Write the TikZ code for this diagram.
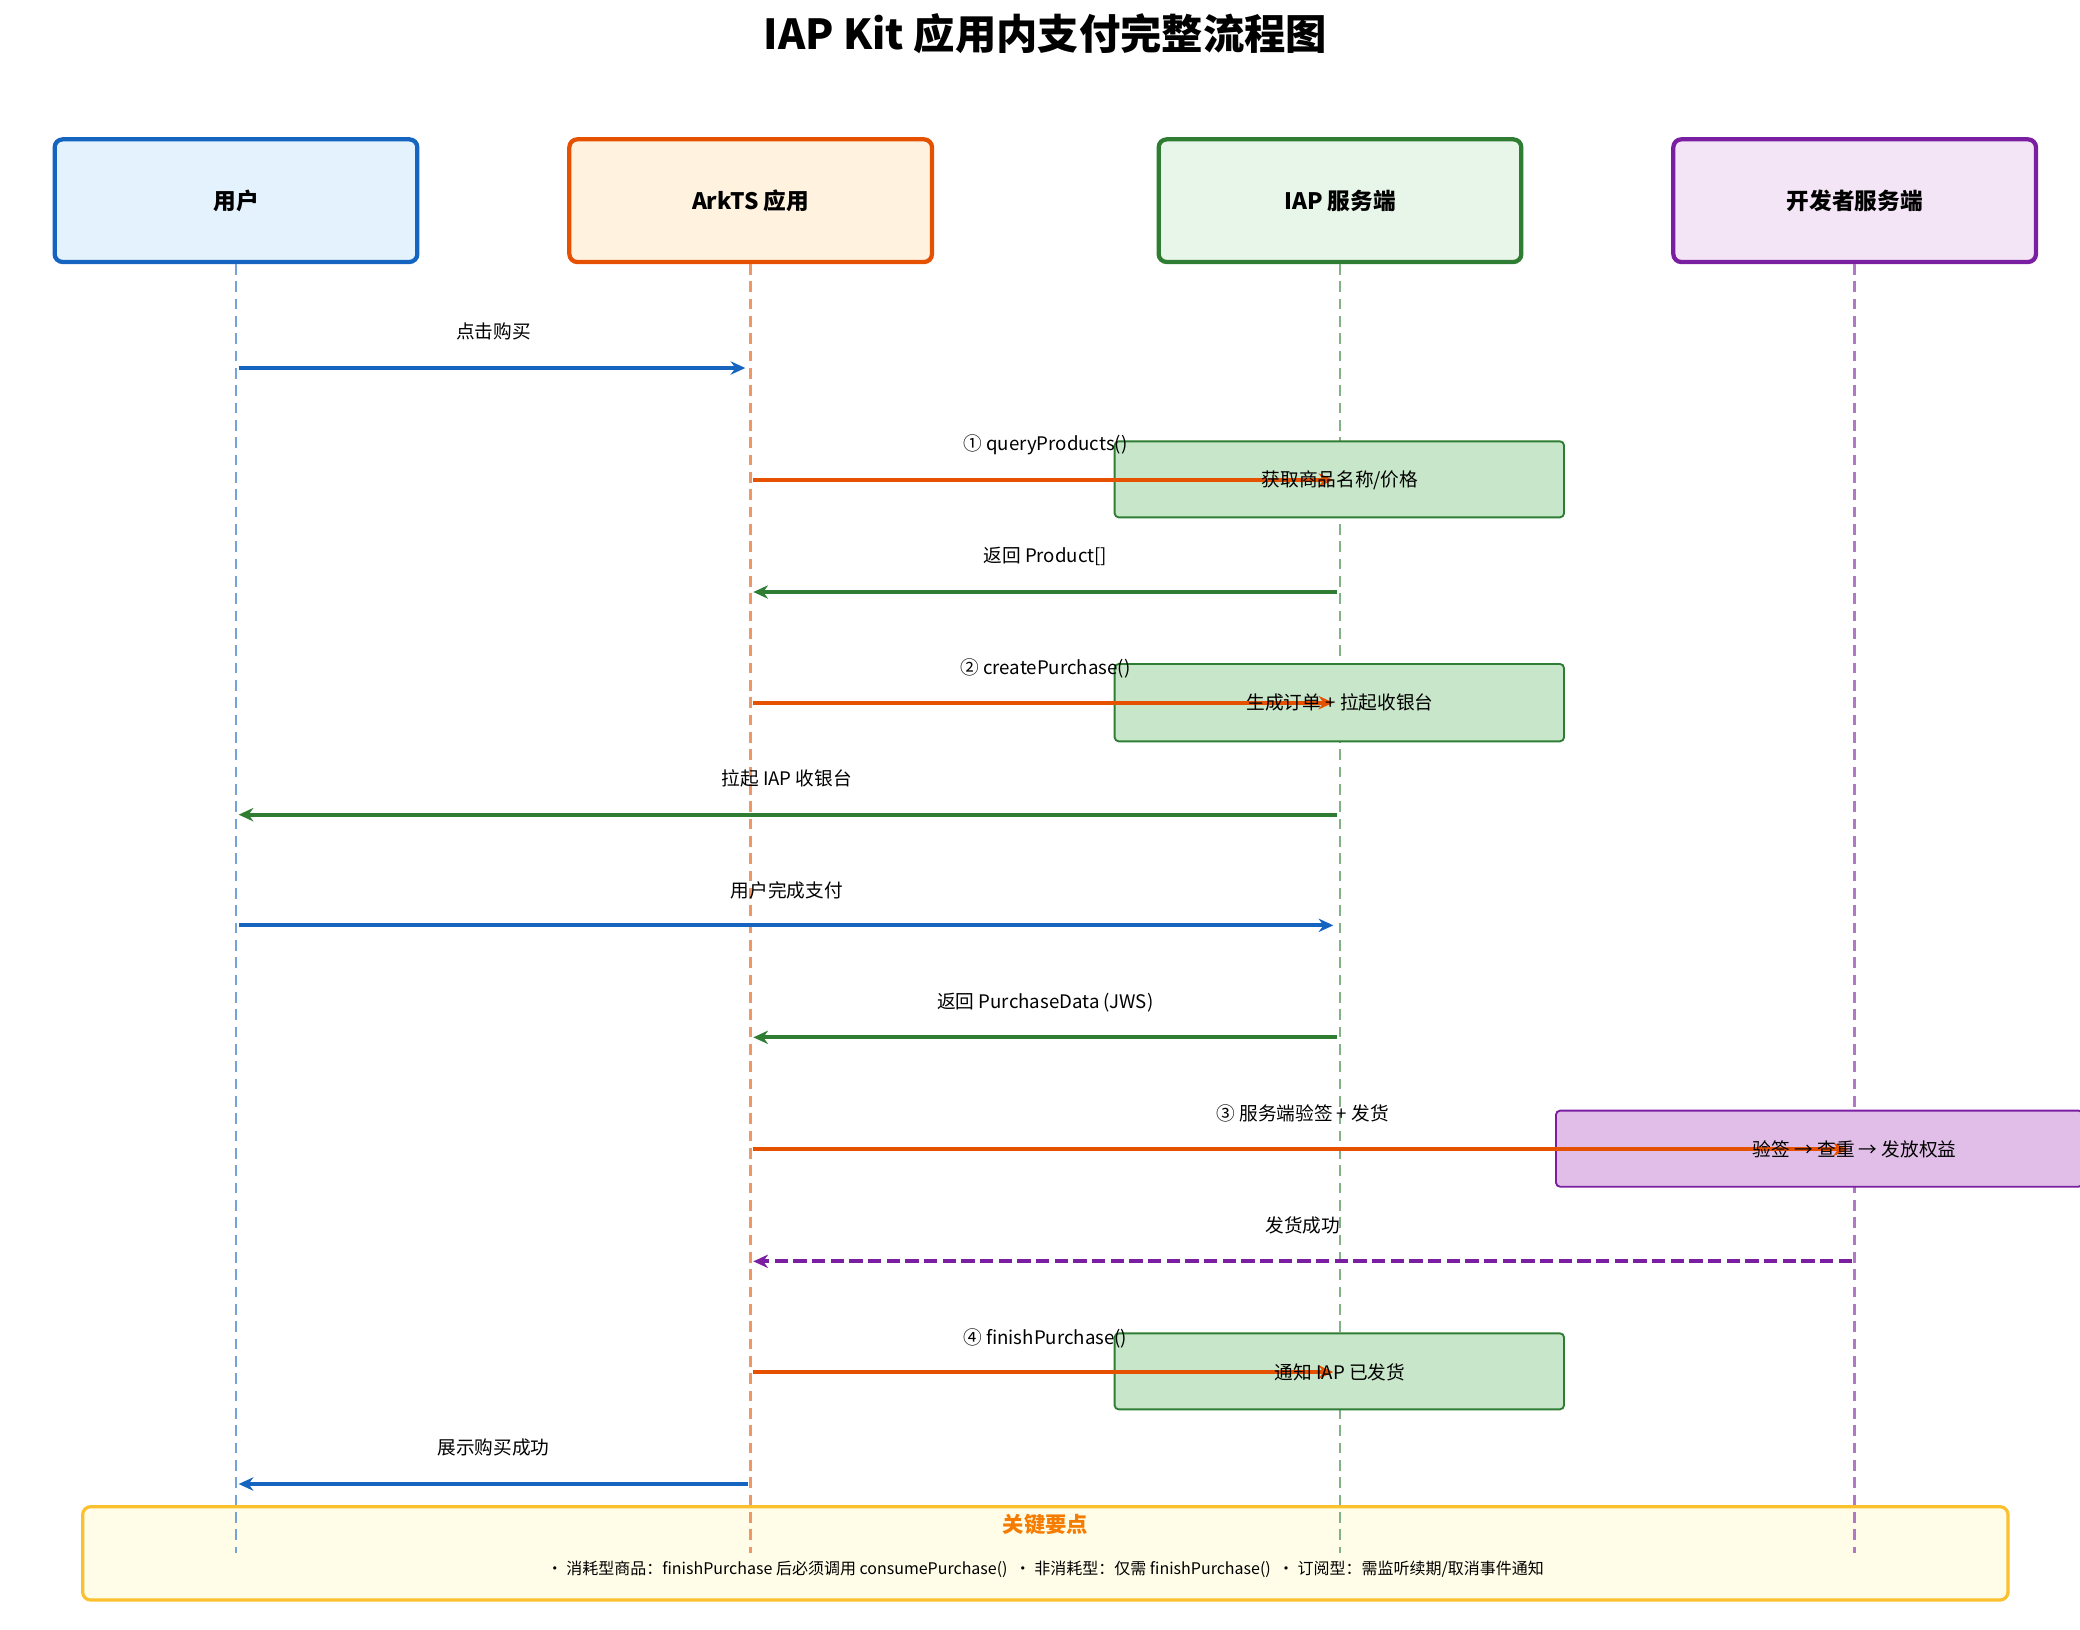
\documentclass[tikz,border=0pt]{standalone}
\usepackage{fontspec}
\setmainfont{Noto Sans CJK SC}
\usetikzlibrary{arrows.meta}
\definecolor{cb}{HTML}{1565C0}\definecolor{co}{HTML}{E65100}
\definecolor{cg}{HTML}{2E7D32}\definecolor{cp}{HTML}{7B1FA2}
\definecolor{fb}{HTML}{E3F2FD}\definecolor{fo}{HTML}{FFF3E0}
\definecolor{fg}{HTML}{E8F5E9}\definecolor{fp}{HTML}{F3E5F5}
\definecolor{ag}{HTML}{C8E6C9}\definecolor{ap}{HTML}{E1BEE7}
\definecolor{ny}{HTML}{FFFDE7}\definecolor{nb}{HTML}{FBC02D}\definecolor{nt}{HTML}{F57C00}
\begin{document}
\begin{tikzpicture}[x=0.5pt,y=-0.5pt,
 actor/.style={draw=#1,line width=1.6pt,rounded corners=3pt,minimum width=136pt,minimum height=46pt,font=\fontsize{8.5}{10}\selectfont\bfseries},
 life/.style={draw=#1!60,dash pattern=on 4pt off 2.5pt,line width=0.9pt},
 msg/.style={draw=#1,line width=1.6pt,-{Stealth[length=5.5pt,width=5pt]}},
 lab/.style={font=\fontsize{7}{8}\selectfont,anchor=base},
 act/.style={draw=#1,line width=0.7pt,rounded corners=1.5pt},
 atx/.style={font=\fontsize{7}{8}\selectfont}]
\useasboundingbox (0,0) rectangle (1560,1222);
\node[font=\fontsize{15.5}{18}\selectfont\bfseries] (title) at (784,25) {IAP Kit 应用内支付完整流程图};
\node[actor=cb,fill=fb] (u) at (177,150.5) {用户};
\node[actor=co,fill=fo] (a) at (563,150.5) {ArkTS 应用};
\node[actor=cg,fill=fg] (i) at (1005,150.5) {IAP 服务端};
\node[actor=cp,fill=fp] (d) at (1391,150.5) {开发者服务端};
\node[draw=nb,fill=ny,line width=1.2pt,rounded corners=3pt,minimum width=722pt,minimum height=35pt] (note) at (784,1165) {};
\coordinate (ue) at (177,1165);\coordinate (ae) at (563,1165);
\coordinate (ie) at (1005,1165);\coordinate (de) at (1391,1165);
\draw[life=cb] (u.south)--(ue);\draw[life=co] (a.south)--(ae);
\draw[life=cg] (i.south)--(ie);\draw[life=cp] (d.south)--(de);
\node[font=\fontsize{8}{9}\selectfont\bfseries,text=nt] (nt1) at (784,1143) {关键要点};
\node[font=\fontsize{6}{7}\selectfont] (nt2) at (784,1177) {• 消耗型商品：finishPurchase 后必须调用 consumePurchase()\ \ • 非消耗型：仅需 finishPurchase()\ \ • 订阅型：需监听续期/取消事件通知};
\foreach \n/\y in {1/276,2/360,3/444,4/527,5/611,6/694,7/778,8/862,9/946,10/1029,11/1113}{
 \coordinate (u\n) at (177,\y);\coordinate (a\n) at (563,\y);\coordinate (i\n) at (1005,\y);\coordinate (d\n) at (1391,\y);}
\draw[act=cg,fill=ag] (836,331) rectangle (1173,388);
\draw[act=cg,fill=ag] (836,498) rectangle (1173,556);
\draw[act=cp,fill=ap] (1167,833) rectangle (1562,890);
\draw[act=cg,fill=ag] (836,1000) rectangle (1173,1057);
\draw[msg=cb,shorten <=1pt,shorten >=2pt] (u1)--(a1);
\node[lab] (l1) at (370,254) {点击购买};
\draw[msg=co,shorten <=1pt,shorten >=2.5pt] (a2)--(i2);
\node[lab] (l2) at (784,338) {① queryProducts()};
\draw[msg=cg,shorten <=1pt,shorten >=1pt] (i3)--(a3);
\node[lab] (l3) at (784,422) {返回 Product[]};
\draw[msg=co,shorten <=1pt,shorten >=2.5pt] (a4)--(i4);
\node[lab] (l4) at (784,506) {② createPurchase()};
\draw[msg=cg,shorten <=1pt,shorten >=1pt] (i5)--(u5);
\node[lab] (l5) at (590,589) {拉起 IAP 收银台};
\draw[msg=cb,shorten <=1pt,shorten >=2.5pt] (u6)--(i6);
\node[lab] (l6) at (590,673) {用户完成支付};
\draw[msg=cg,shorten <=1pt,shorten >=1pt] (i7)--(a7);
\node[lab] (l7) at (784,756) {返回 PurchaseData (JWS)};
\draw[msg=co,shorten <=1pt,shorten >=2.5pt] (a8)--(d8);
\node[lab] (l8) at (977,840) {③ 服务端验签 + 发货};
\draw[msg=cp,dash pattern=on 5pt off 2pt,shorten <=1pt,shorten >=1pt] (d9)--(a9);
\node[lab] (l9) at (977,924) {发货成功};
\draw[msg=co,shorten <=1pt,shorten >=2.5pt] (a10)--(i10);
\node[lab] (l10) at (784,1008) {④ finishPurchase()};
\draw[msg=cb,shorten <=1pt,shorten >=1pt] (a11)--(u11);
\node[lab] (l11) at (370,1091) {展示购买成功};
\node[atx] (t1) at (1005,360) {获取商品名称/价格};
\node[atx] (t2) at (1005,527) {生成订单 + 拉起收银台};
\node[atx] (t3) at (1391,862) {验签 → 查重 → 发放权益};
\node[atx] (t4) at (1005,1029) {通知 IAP 已发货};
\end{tikzpicture}
\end{document}
